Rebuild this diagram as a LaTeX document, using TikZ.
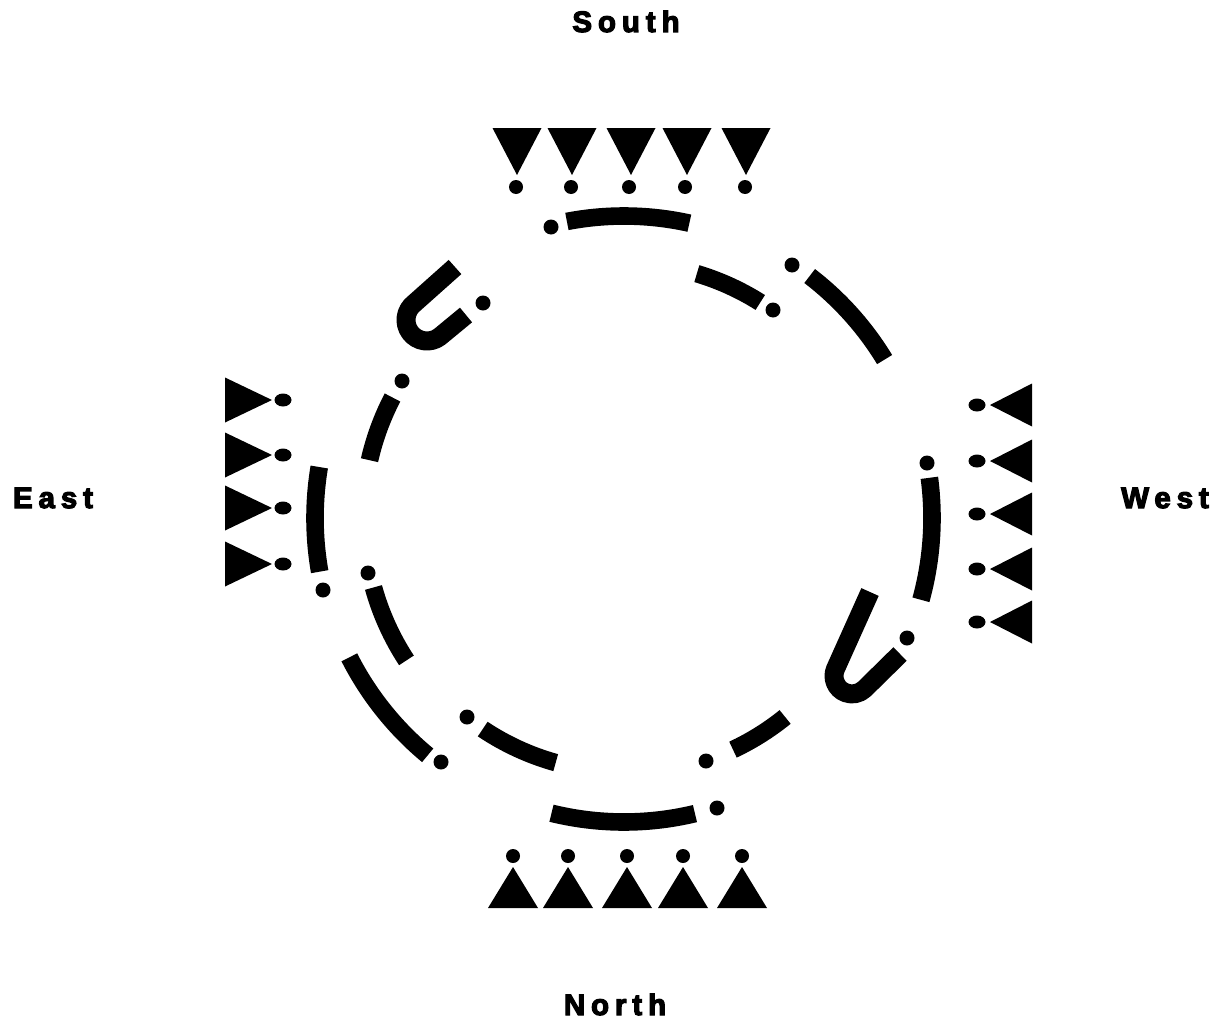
\documentclass[tikz,border=0pt]{standalone}
\usepackage{fontspec}
\newfontfamily\labfont[LetterSpace=20,FakeBold=4]{Liberation Sans}
\newcommand\ringseg[3]{%
  \pgfmathsetmacro\rsout{#3+8.8}%
  \pgfmathsetmacro\rsin{#3-8.8}%
  \fill ([shift={(#1:\rsout)}]ctr) arc[start angle=#1,end angle=#2,radius=\rsout]
    -- ([shift={(#2:\rsin)}]ctr) arc[start angle=#2,end angle=#1,radius=\rsin] -- cycle;}
\begin{document}
\begin{tikzpicture}[x=1pt,y=-1pt,
  ushape/.style={line width=19pt,line cap=butt,line join=round},
  lab/.style={font=\labfont\bfseries\fontsize{29.5}{31}\selectfont,inner sep=0pt,anchor=base}]
\useasboundingbox (0,0) rectangle (1222,1025);
\coordinate (ctr) at (624,518);
% labels
\node[lab] (south) at (626,32) {South};
\node[lab] (east) at (53,508) {East};
\node[lab] (west) at (1165,508) {West};
\node[lab] (north) at (615,1015) {North};
% outer arcs
\ringseg{259.1}{282.5}{302}
\ringseg{307.5}{328.7}{305}
\ringseg{-7.5}{15.4}{308}
\ringseg{76.5}{103.8}{304}
\ringseg{129.6}{153.1}{308}
\ringseg{170}{189.5}{309}
% inner arcs
\ringseg{286.6}{302.3}{255}
\ringseg{192.8}{207.5}{261}
\ringseg{146.8}{164.5}{260}
\ringseg{105.6}{123.8}{254}
\ringseg{51}{64.8}{256}
% U shapes
\draw[ushape] (455,267) -- (414.4,303.2) arc[start angle=233.1,end angle=53.1,radius=21] -- (466,315);
\draw[ushape] (870,592) -- (835.3,669.3) arc[start angle=201.7,end angle=45,radius=18] -- (900,654);
% dots on the ring
\foreach \p in {(551,227),(483,303),(402,381),(792,265),(773,310),(927,463),(907,638),(323,590),(368,573),(441,762),(467,717),(706,761),(717,808)}
  \fill \p circle[radius=7.5];
% south figures
\foreach \a in {517,572,631,687,746}
  \fill (\a-24.5,128) -- (\a+24.5,128) -- (\a,175) -- cycle;
\foreach \a in {516,571,629,685,745}
  \fill (\a,187) circle[radius=7];
% north figures
\foreach \a in {513,568,627,683,742}{
  \fill (\a-25,908) -- (\a+25,908) -- (\a,867) -- cycle;
  \fill (\a,856) circle[radius=7];}
% east figures
\foreach \c in {400,455,508,564}{
  \fill (225,\c-22.5) -- (225,\c+22.5) -- (272,\c) -- cycle;
  \fill (283,\c) ellipse[x radius=8.5,y radius=6.5];}
% west figures
\foreach \c in {405,461,514,569,622}{
  \fill (1032,\c-21.5) -- (1032,\c+21.5) -- (990,\c) -- cycle;
  \fill (977,\c) ellipse[x radius=8.5,y radius=6.5];}
\end{tikzpicture}
\end{document}
